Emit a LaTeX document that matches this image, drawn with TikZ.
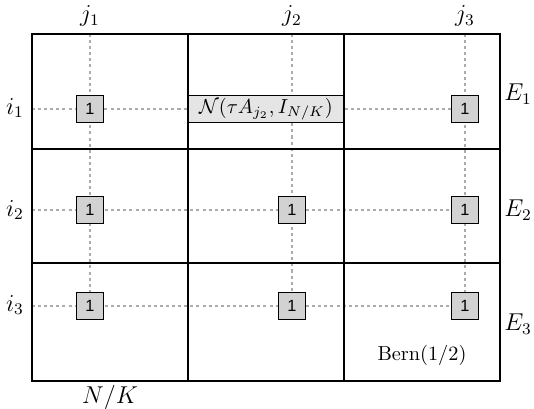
\documentclass[tikz,border=0pt]{standalone}
\usepackage{fontspec}
\newfontfamily\onefont{Liberation Sans}
\begin{document}
\begin{tikzpicture}[x=0.4926pt,y=-0.4926pt,
  gridline/.style={line width=0.9pt},
  guide/.style={draw=gray!65, line width=1.3pt, dash pattern=on 1.5pt off 1.5pt},
  onebox/.style={draw, line width=0.9pt, fill=gray!35, minimum width=13.3pt, minimum height=13.3pt, inner sep=0pt, font=\onefont\footnotesize},
  normbox/.style={draw, line width=0.8pt, fill=gray!20, minimum width=76.8pt, minimum height=13.3pt, inner sep=0pt},
  lbl/.style={inner sep=0pt, font=\large}]
\useasboundingbox (0,0) rectangle (534,409);
% left and top edge coordinates
\coordinate (L1) at (32,109);
\coordinate (L2) at (32,210);
\coordinate (L3) at (32,306);
\coordinate (T1) at (90,34);
\coordinate (T2) at (292,34);
\coordinate (T3) at (465,34);
% boxes
\node[normbox] (nb) at (266,109) {$\mathcal{N}(\tau A_{j_2}, I_{N/K})$};
\path (90,109) node[onebox] (s11) {}
      (465,109) node[onebox] (s13) {}
      (90,210) node[onebox] (s21) {}
      (292,210) node[onebox] (s22) {}
      (465,210) node[onebox] (s23) {}
      (90,306) node[onebox] (s31) {}
      (292,306) node[onebox] (s32) {}
      (465,306) node[onebox] (s33) {};
% guide lines
\draw[guide] (L1) -- (s11.west);
\draw[guide] (s11.east) -- (nb.west);
\draw[guide] (nb.east) -- (s13.west);
\draw[guide] (L2) -- (s23.west);
\draw[guide] (L3) -- (s33.west);
\draw[guide] (T1) -- (s31.north);
\draw[guide] (T2) -- (T2 |- nb.north);
\draw[guide] (T2 |- nb.south) -- (s32.north);
\draw[guide] (T3) -- (s33.north);
% grid
\draw[gridline] (32,34) rectangle (500,381);
\draw[gridline] (188,34) -- (188,381);
\draw[gridline] (344,34) -- (344,381);
\draw[gridline] (32,149) -- (500,149);
\draw[gridline] (32,263) -- (500,263);
% boxes on top
\node[normbox] at (nb) {$\mathcal{N}(\tau A_{j_2}, I_{N/K})$};
\foreach \s in {s11,s13,s21,s22,s23,s31,s32,s33}
  \node[onebox] at (\s) {1};
% labels
\node[lbl] (j1) at (90,16) {$j_1$};
\node[lbl] (j2) at (292,16) {$j_2$};
\node[lbl] (j3) at (465,16) {$j_3$};
\node[lbl] (i1) at (15,108) {$i_1$};
\node[lbl] (i2) at (15,210) {$i_2$};
\node[lbl] (i3) at (15,305) {$i_3$};
\node[lbl] (E1) at (518,94) {$E_1$};
\node[lbl] (E2) at (518,210) {$E_2$};
\node[lbl] (E3) at (518,324) {$E_3$};
\node[lbl] (nk) at (110,397) {$N/K$};
\node[inner sep=0pt] (bern) at (422,355) {$\mathrm{Bern}(1/2)$};
\end{tikzpicture}
\end{document}
